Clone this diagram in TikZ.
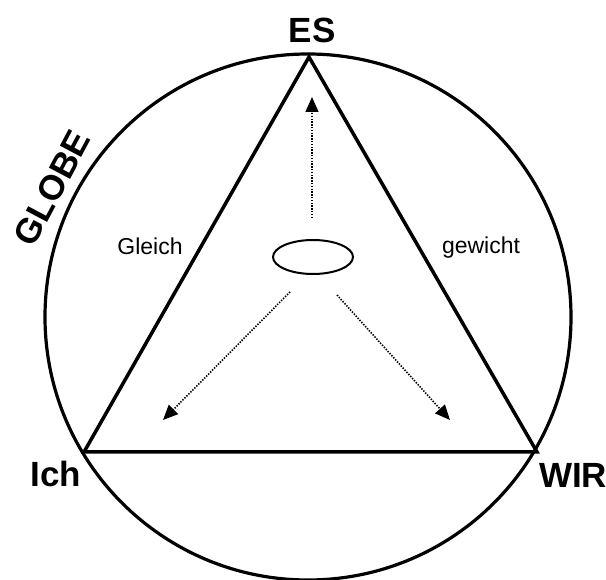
\documentclass[tikz,border=0pt]{standalone}
\usepackage{fontspec}
\setmainfont{Liberation Sans}
\usetikzlibrary{arrows.meta,shapes.geometric}
\begin{document}
\begin{tikzpicture}[x=1pt,y=-1pt,
  bigtext/.style={inner sep=0pt,font=\fontsize{35}{40}\selectfont\bfseries},
  smalltext/.style={inner sep=0pt,font=\fontsize{23}{27}\selectfont},
  edge/.style={line width=3.5pt,line join=miter},
  flow/.style={line width=1.6pt,dash pattern=on 1.4pt off 1.4pt,
    -{Triangle[length=15pt,width=13pt]}}]
\useasboundingbox (0,0) rectangle (606,580);
\node[draw,circle,line width=3.2pt,minimum size=526pt,inner sep=0pt] (globe) at (308,317) {};
\coordinate (es) at (309,57);
\coordinate (ich) at (84,452);
\coordinate (wir) at (537,452);
\draw[edge] (es) -- (wir) -- (ich) -- cycle;
\node[draw,ellipse,line width=2pt,minimum width=80pt,minimum height=34pt,inner sep=0pt] (core) at (313,257) {};
\coordinate (s1) at (312,218);
\coordinate (t1) at (312,97);
\coordinate (s2) at (290,292);
\coordinate (t2) at (163,420);
\coordinate (s3) at (337,295);
\coordinate (t3) at (450,420);
\draw[flow] (s1) -- (t1);
\draw[flow] (s2) -- (t2);
\draw[flow] (s3) -- (t3);
\node[bigtext,anchor=base] (lES) at (312,43) {ES};
\node[bigtext,anchor=base] (lIch) at (56,486) {Ich};
\node[bigtext,anchor=base west] (lWIR) at (539,488) {WIR};
\node[bigtext,rotate=62] (lGlobe) at (52,188) {GLOBE};
\node[smalltext,anchor=base] (lGl) at (150,255) {Gleich};
\node[smalltext,anchor=base] (lGw) at (481,254) {gewicht};
\end{tikzpicture}
\end{document}
